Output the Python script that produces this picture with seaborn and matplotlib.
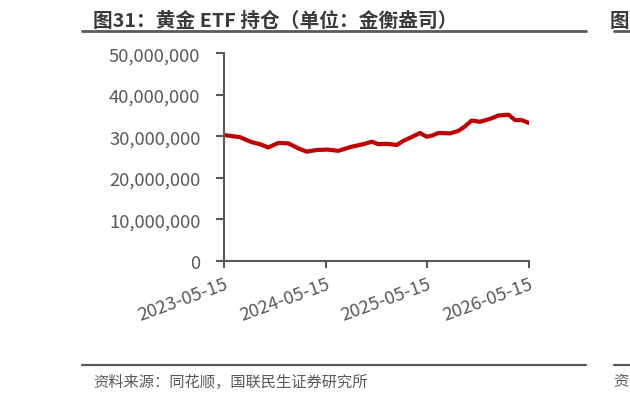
import matplotlib
matplotlib.use("Agg")
import matplotlib.pyplot as plt
import matplotlib.dates as mdates
from matplotlib.lines import Line2D
import seaborn as sns
import pandas as pd
from matplotlib.ticker import FuncFormatter

# ---- data (readings, troy ounces) ----
dates = ["2023-05-15", "2023-07-11", "2023-08-22", "2023-09-21", "2023-10-21",
         "2023-11-26", "2024-01-01", "2024-02-06", "2024-03-07", "2024-04-12",
         "2024-05-21", "2024-06-29", "2024-08-16", "2024-09-27", "2024-10-27",
         "2024-11-20", "2024-12-20", "2025-01-25", "2025-02-17", "2025-03-19",
         "2025-04-18", "2025-05-12", "2025-06-02", "2025-06-23", "2025-08-04",
         "2025-09-03", "2025-09-27", "2025-10-21", "2025-11-20", "2025-12-26",
         "2026-01-25", "2026-03-02", "2026-03-26", "2026-04-19", "2026-05-15"]
holdings_m = [30.3, 29.8, 28.6, 28.1, 27.3,
              28.4, 28.3, 27.1, 26.3, 26.7,
              26.8, 26.5, 27.5, 28.1, 28.7,
              28.1, 28.2, 27.9, 28.9, 29.8,
              30.8, 29.9, 30.2, 30.8, 30.7,
              31.3, 32.4, 33.8, 33.5, 34.2,
              35.0, 35.2, 33.9, 33.9, 33.2]
holdings = [v * 1e6 for v in holdings_m]
x_ticks = ["2023-05-15", "2024-05-15", "2025-05-15", "2026-05-15"]
y_ticks = [0, 10_000_000, 20_000_000, 30_000_000, 40_000_000, 50_000_000]
title = "图31：黄金 ETF 持仓（单位：金衡盎司）"
source = "资料来源：同花顺，国联民生证券研究所"

df = pd.DataFrame({"date": pd.to_datetime(dates), "value": holdings})

sns.set_theme(style="white")
plt.rcParams["font.family"] = ["Noto Sans CJK SC", "DejaVu Sans"]

W, H = 630, 402
fig = plt.figure(figsize=(W / 100, H / 100), dpi=100)
ax = fig.add_axes([224 / W, 1 - 261.8 / H, (529 - 224) / W, (261.8 - 54.3) / H])

sns.lineplot(data=df, x="date", y="value", ax=ax, color="#C00000", linewidth=3.0)

gray = "#595959"
ax.set_ylim(0, 50_000_000)
ax.set_yticks(y_ticks)
ax.yaxis.set_major_formatter(FuncFormatter(lambda v, p: f"{int(v):,}"))
ax.set_xlim(pd.Timestamp(x_ticks[0]), pd.Timestamp(x_ticks[-1]))
ax.set_xticks([pd.Timestamp(d) for d in x_ticks])
ax.xaxis.set_major_formatter(mdates.DateFormatter("%Y-%m-%d"))
ax.set_xlabel("")
ax.set_ylabel("")
for s in ["top", "right"]:
    ax.spines[s].set_visible(False)
for s in ["left", "bottom"]:
    ax.spines[s].set_color(gray)
    ax.spines[s].set_linewidth(1.5)
ax.tick_params(axis="y", which="major", direction="out", length=6, width=1.5,
               color=gray, labelcolor=gray, labelsize=13.3, pad=11, left=True)
ax.tick_params(axis="x", which="major", direction="out", length=5, width=1.5,
               color=gray, labelcolor=gray, labelsize=13.3, pad=5, bottom=True)
for lbl in ax.get_xticklabels():
    lbl.set_rotation(20)
    lbl.set_ha("right")
    lbl.set_rotation_mode("anchor")

# header / footer
fig.text(93 / W, 1 - 27 / H, title, fontsize=14.2, fontweight="bold", color="#3a3a3a",
         ha="left", va="baseline")
fig.add_artist(Line2D([82 / W, 586 / W], [1 - 31.7 / H] * 2, color=gray, lw=2))
fig.add_artist(Line2D([614 / W, 1.0], [1 - 31.7 / H] * 2, color=gray, lw=2))
fig.text(610 / W, 1 - 27 / H, "图", fontsize=14, fontweight="bold", color="#3a3a3a",
         ha="left", va="baseline")
fig.add_artist(Line2D([82 / W, 586 / W], [1 - 366 / H] * 2, color=gray, lw=1.6))
fig.add_artist(Line2D([614 / W, 1.0], [1 - 366 / H] * 2, color=gray, lw=1.6))
fig.text(93 / W, 1 - 382 / H, source, fontsize=11, color=gray, ha="left", va="center")
fig.text(613 / W, 1 - 382 / H, "资", fontsize=11, color=gray, ha="left", va="center")

fig.savefig("out.png", dpi=100)
